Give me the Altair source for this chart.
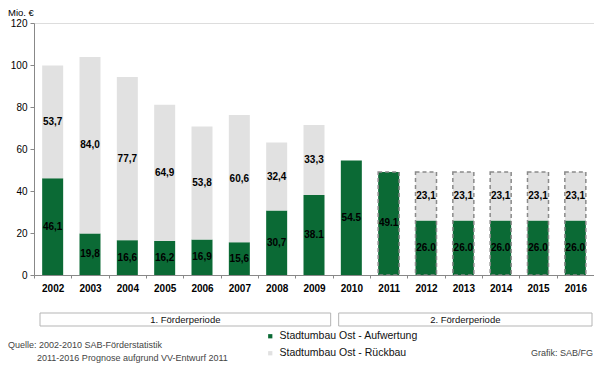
import altair as alt
import pandas as pd

# ---- data ----
years = [str(y) for y in range(2002, 2017)]
aufwertung = [46.1, 19.8, 16.6, 16.2, 16.9, 15.6, 30.7, 38.1, 54.5, 49.1, 26.0, 26.0, 26.0, 26.0, 26.0]
rueckbau = [53.7, 84.0, 77.7, 64.9, 53.8, 60.6, 32.4, 33.3, None, None, 23.1, 23.1, 23.1, 23.1, 23.1]
auf_labels = ["46,1", "19,8", "16,6", "16,2", "16,9", "15,6", "30,7", "38.1", "54.5", "49.1",
              "26.0", "26.0", "26.0", "26.0", "26.0"]
rueck_labels = ["53,7", "84,0", "77,7", "64,9", "53,8", "60,6", "32,4", "33,3", None, None,
                "23,1", "23,1", "23,1", "23,1", "23,1"]
forecast_years = ["2011", "2012", "2013", "2014", "2015", "2016"]
series = ["Stadtumbau Ost - Aufwertung", "Stadtumbau Ost - Rückbau"]
colors = ["#0b6a35", "#e1e1e1"]
periods = ["1. Förderperiode", "2. Förderperiode"]
period_start = [0, 8]   # index of first year in period
period_end = [8, 15]    # index after last year in period

FONT = "Liberation Sans"
W, H = 560, 252

rows = []
for i, y in enumerate(years):
    rows.append({"year": y, "series": series[0], "value": aufwertung[i], "label": auf_labels[i], "order": 0})
    if rueckbau[i] is not None:
        rows.append({"year": y, "series": series[1], "value": rueckbau[i], "label": rueck_labels[i], "order": 1})
df = pd.DataFrame(rows)

tot = []
for i, y in enumerate(years):
    if y in forecast_years:
        tot.append({"year": y, "total": aufwertung[i] + (rueckbau[i] or 0)})
df_tot = pd.DataFrame(tot)

df_per = pd.DataFrame({"name": periods, "start": period_start, "end": period_end})

xscale = alt.Scale(domain=years, paddingInner=0, paddingOuter=0)
yscale = alt.Scale(domain=[0, 120], nice=False)

bars = alt.Chart(df).mark_bar(size=21).encode(
    x=alt.X("year:N", scale=xscale, sort=years,
            axis=alt.Axis(title=None, labelAngle=0, labelFontWeight="bold", labelFontSize=10,
                          labelFont=FONT, labelColor="#000", tickBand="extent", tickSize=3,
                          tickColor="#888", domainColor="#888", labelPadding=5)),
    y=alt.Y("value:Q", stack="zero", scale=yscale,
            axis=alt.Axis(title=None, grid=False, values=[0, 20, 40, 60, 80, 100, 120],
                          labelFontSize=10, labelFont=FONT, labelColor="#000",
                          tickColor="#888", domainColor="#888", tickSize=4, labelPadding=3)),
    color=alt.Color("series:N", scale=alt.Scale(domain=series, range=colors),
                    legend=alt.Legend(title=None, orient="none", legendX=231, legendY=308,
                                      symbolType="square", symbolSize=18, symbolStrokeWidth=0,
                                      labelFontSize=10.5, labelFont=FONT, labelColor="#111",
                                      rowPadding=6, labelOffset=4)),
    order=alt.Order("order:Q"),
)

labels = alt.Chart(df).transform_stack(
    stack="value", groupby=["year"], as_=["v0", "v1"], sort=[alt.SortField("order")]
).transform_calculate(mid="(datum.v0 + datum.v1) / 2").mark_text(
    fontSize=10, fontWeight="bold", font=FONT, color="#000"
).encode(
    x=alt.X("year:N", scale=xscale, sort=years),
    y=alt.Y("mid:Q", scale=yscale),
    text="label:N",
)

outline = alt.Chart(df_tot).mark_bar(
    size=21, fillOpacity=0, stroke="#8a8a8a", strokeDash=[4, 3], strokeWidth=1.5
).encode(
    x=alt.X("year:N", scale=xscale, sort=years),
    y=alt.Y("total:Q", scale=yscale),
)

pscale = alt.Scale(domain=[0, 15], nice=False, zero=False)
pbox = alt.Chart(df_per).mark_rect(
    fill="#ffffff", stroke="#b5b5b5", strokeWidth=1, xOffset=6, x2Offset=-2
).encode(
    x=alt.X("start:Q", scale=pscale, axis=None),
    x2="end:Q",
    y=alt.value(H + 38), y2=alt.value(H + 51),
)
ptext = alt.Chart(df_per).transform_calculate(
    mid="(datum.start + datum.end) / 2"
).mark_text(fontSize=9.5, font=FONT, color="#111", baseline="middle", dx=2).encode(
    x=alt.X("mid:Q", scale=pscale, axis=None),
    y=alt.value(H + 44.5),
    text="name:N",
)

def note(txt, x, y, align="left", size=9, color="#444", baseline="middle"):
    return alt.Chart(pd.DataFrame({"t": [txt]})).mark_text(
        align=align, baseline=baseline, fontSize=size, font=FONT, color=color
    ).encode(x=alt.value(x), y=alt.value(y), text="t:N")

notes = [
    note("Mio. €", -26, -15, size=9.5, color="#000", baseline="top"),
    note("Quelle:", -26, H + 70),
    note("2002-2010 SAB-Förderstatistik", 5, H + 70),
    note("2011-2016 Prognose aufgrund VV-Entwurf 2011", 3, H + 83),
    note("Grafik: SAB/FG", W - 1, H + 78, align="right"),
]

main = alt.layer(bars, outline, labels)
per = alt.layer(pbox, ptext)

chart = alt.layer(main, per, *notes).resolve_scale(x="independent").properties(
    width=W, height=H,
    padding={"left": 26, "top": 15, "right": 0, "bottom": 88},
    autosize=alt.AutoSizeParams(type="none"),
).configure_view(stroke=None).configure(font=FONT)

chart.save("out.html", embed_options={"renderer": "svg", "actions": False})
